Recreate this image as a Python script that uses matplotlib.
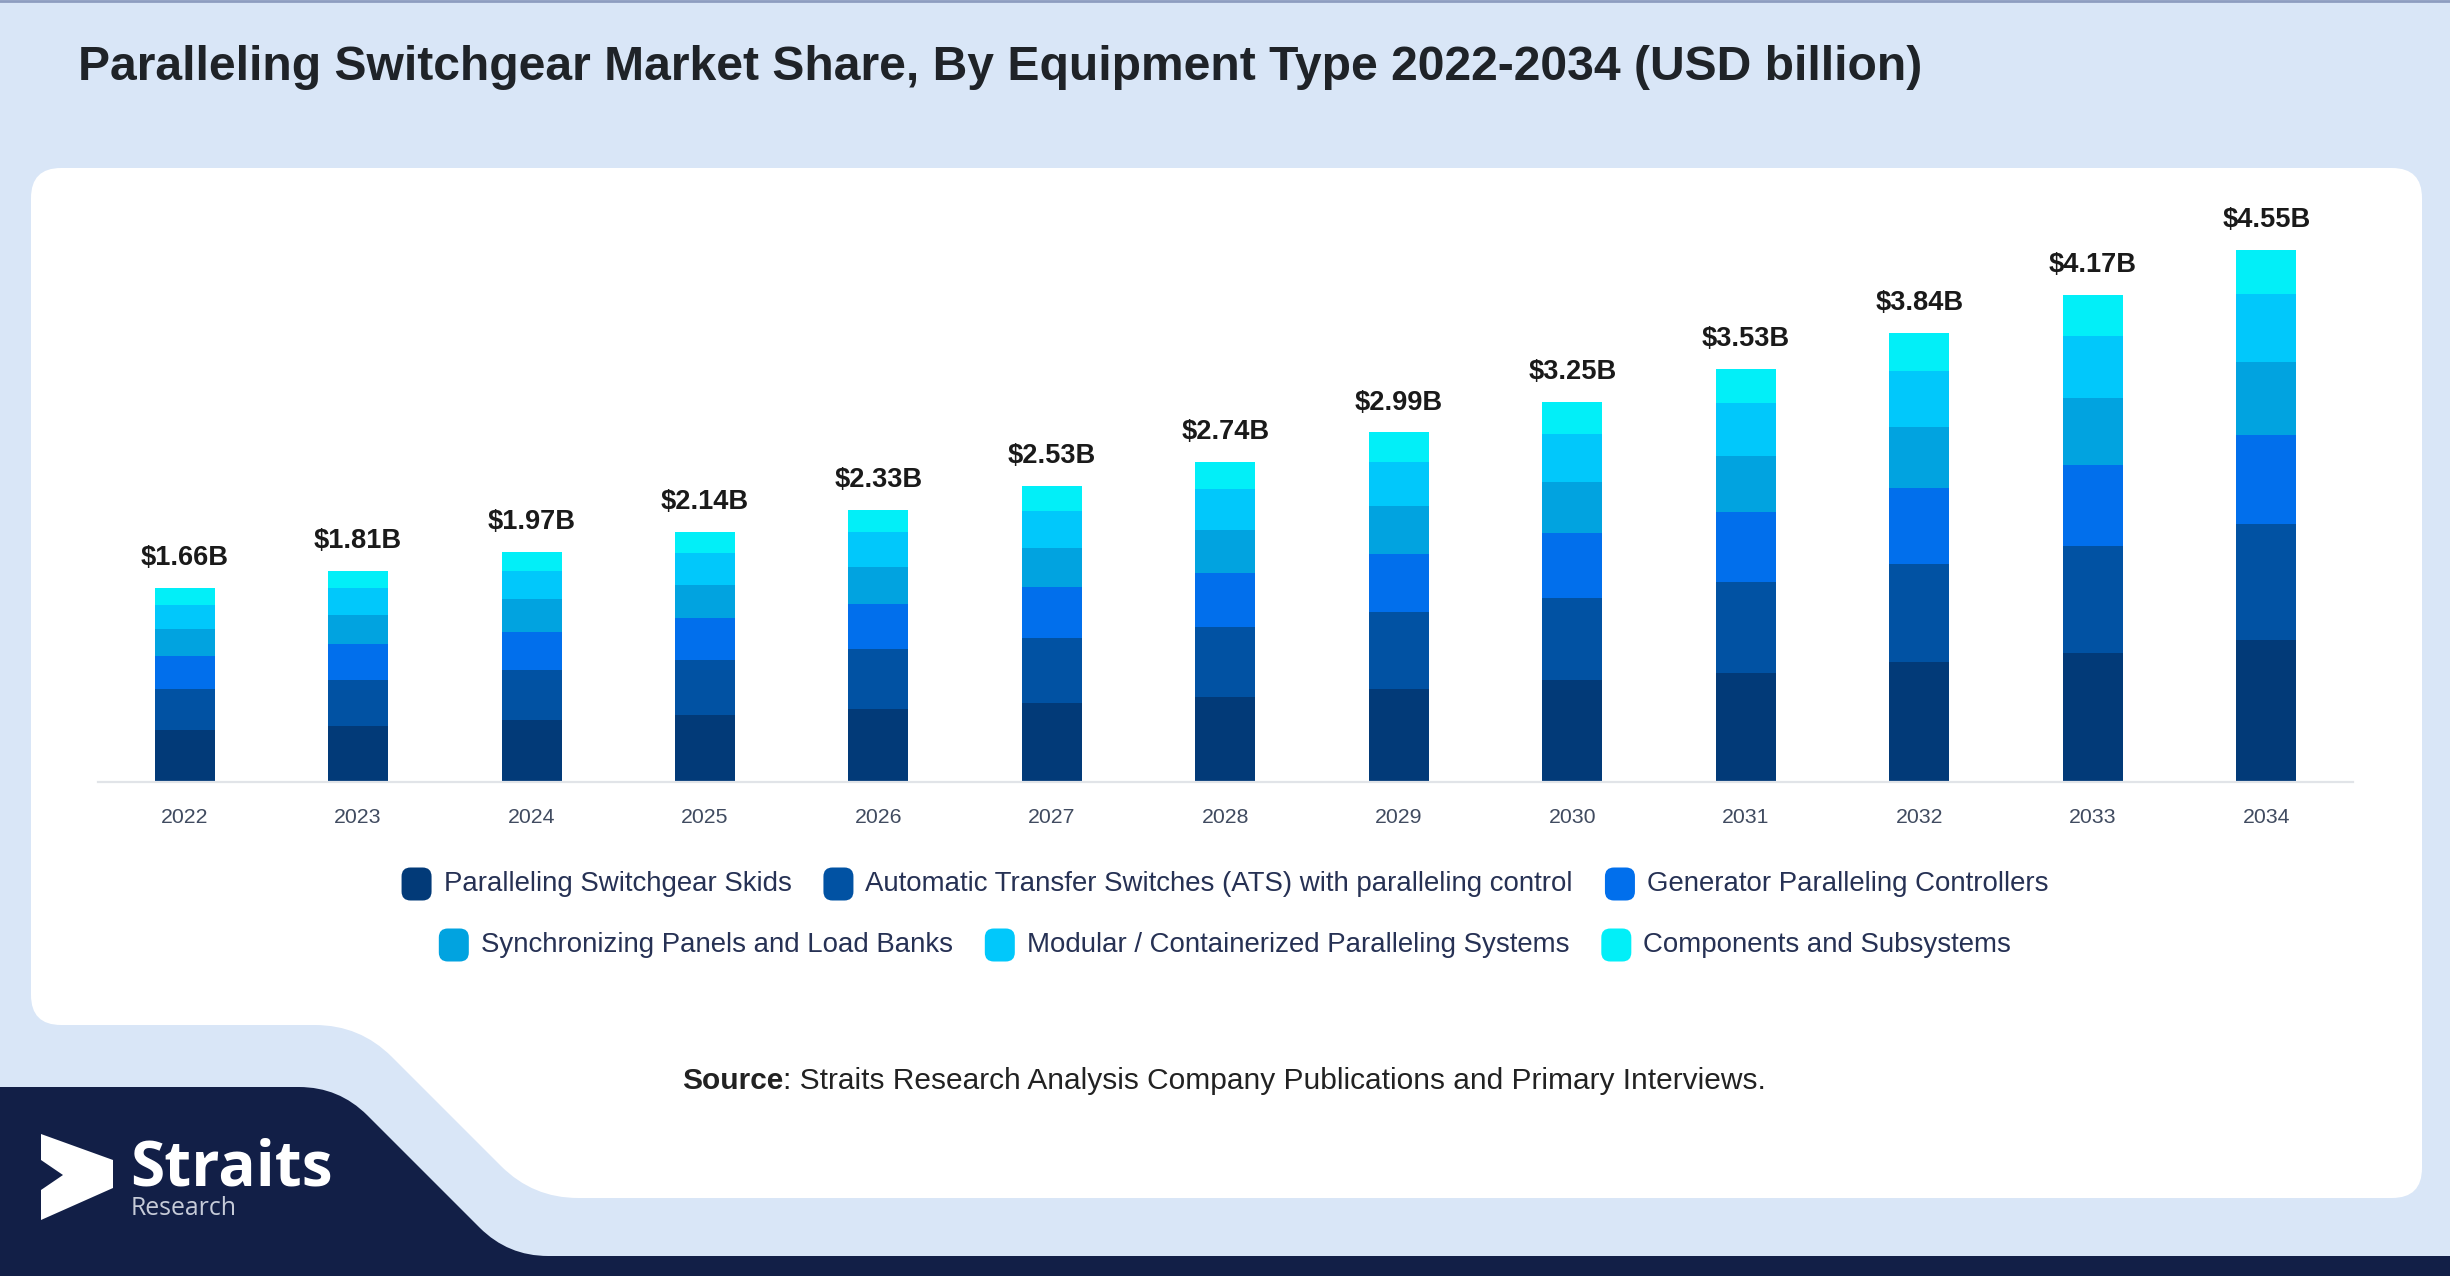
import matplotlib
matplotlib.use("Agg")
import matplotlib.pyplot as plt
from matplotlib.path import Path
from matplotlib.patches import PathPatch, FancyBboxPatch, Polygon
import numpy as np

# ---------------- data ----------------
years = ["2022", "2023", "2024", "2025", "2026", "2027", "2028",
         "2029", "2030", "2031", "2032", "2033", "2034"]
total_labels = [1.66, 1.81, 1.97, 2.14, 2.33, 2.53, 2.74, 2.99, 3.25, 3.53, 3.84, 4.17, 4.55]
skids = [0.443, 0.477, 0.532, 0.573, 0.622, 0.680, 0.730, 0.796, 0.870, 0.934, 1.027, 1.107, 1.212]
ats = [0.355, 0.392, 0.427, 0.471, 0.514, 0.551, 0.599, 0.656, 0.707, 0.778, 0.835, 0.916, 0.995]
gen_ctrl = [0.279, 0.313, 0.327, 0.359, 0.383, 0.434, 0.462, 0.499, 0.554, 0.597, 0.650, 0.692, 0.764]
sync_panels = [0.233, 0.247, 0.279, 0.285, 0.323, 0.334, 0.365, 0.411, 0.437, 0.479, 0.522, 0.568, 0.622]
modular = [0.207, 0.227, 0.242, 0.274, 0.300, 0.323, 0.351, 0.377, 0.412, 0.451, 0.483, 0.536, 0.583]
components = [0.142, 0.153, 0.162, 0.177, 0.188, 0.208, 0.234, 0.251, 0.270, 0.291, 0.323, 0.351, 0.373]

series_names = [
    "Paralleling Switchgear Skids",
    "Automatic Transfer Switches (ATS) with paralleling control",
    "Generator Paralleling Controllers",
    "Synchronizing Panels and Load Banks",
    "Modular / Containerized Paralleling Systems",
    "Components and Subsystems",
]
series_values = [skids, ats, gen_ctrl, sync_panels, modular, components]
colors = ["#023a78", "#0152a3", "#016fec", "#01a3e0", "#01c8fb", "#02eff8"]

title = "Paralleling Switchgear Market Share, By Equipment Type 2022-2034 (USD billion)"

# ---------------- figure ----------------
W, H = 2450, 1276
BG = "#d9e6f7"
NAVY = "#121f47"
fig = plt.figure(figsize=(W / 100, H / 100), dpi=100, facecolor=BG)
renderer = fig.canvas.get_renderer()

bg = fig.add_axes([0, 0, 1, 1])
bg.set_xlim(0, W)
bg.set_ylim(H, 0)
bg.axis("off")


def rounded_path(pts, radii):
    n = len(pts)
    verts, codes = [], []
    for i in range(n):
        p0 = np.array(pts[i - 1], float)
        p1 = np.array(pts[i], float)
        p2 = np.array(pts[(i + 1) % n], float)
        r = radii[i]
        l1 = np.linalg.norm(p0 - p1)
        l2 = np.linalg.norm(p2 - p1)
        a = p1 + (p0 - p1) / l1 * min(r, l1 / 2)
        b = p1 + (p2 - p1) / l2 * min(r, l2 / 2)
        verts.append(a)
        codes.append(Path.MOVETO if i == 0 else Path.LINETO)
        verts += [p1, b]
        codes += [Path.CURVE3, Path.CURVE3]
    verts.append(verts[0])
    codes.append(Path.CLOSEPOLY)
    return Path(verts, codes)


# top border line
bg.plot([0, W], [1, 1], color="#8d9dc0", lw=2, zorder=1)

# navy footer shape
navy_pts = [(-20, 1087), (339, 1087), (508, 1256), (W + 20, 1256), (W + 20, H + 20), (-20, H + 20)]
bg.add_patch(PathPatch(rounded_path(navy_pts, [0, 40, 40, 0, 0, 0]),
                       facecolor=NAVY, edgecolor="none", zorder=1))

# white panel
panel_pts = [(31, 168), (2422, 168), (2422, 1198), (533, 1198), (360, 1025), (31, 1025)]
bg.add_patch(PathPatch(rounded_path(panel_pts, [30, 30, 30, 45, 45, 30]),
                       facecolor="white", edgecolor="none", zorder=1))

# title
bg.text(78, 67, title, fontsize=34.55, fontweight="bold", family="Liberation Sans",
        color="#1f2328", ha="left", va="center", zorder=3)

# logo
arrow = [(41, 1134), (113, 1160), (113, 1188), (41, 1220), (41, 1190), (63, 1175), (41, 1160)]
bg.add_patch(Polygon(arrow, closed=True, facecolor="white", edgecolor="none", zorder=3))


def fit(text, target, **kw):
    t = fig.text(0, 0, text, fontsize=20, **kw)
    w = t.get_window_extent(renderer).width
    t.remove()
    return 20 * target / w


fs_logo = fit("Straits", 202, family="Open Sans", fontweight="bold")
bg.text(130, 1185, "Straits", fontsize=fs_logo, family="Open Sans", fontweight="bold",
        color="white", ha="left", va="baseline", zorder=3)
fs_res = fit("Research", 106, family="Open Sans")
bg.text(131, 1215, "Research", fontsize=fs_res, family="Open Sans",
        color="#c6cbd8", ha="left", va="baseline", zorder=3)

# source line
src_b = "Source"
src_r = ": Straits Research Analysis Company Publications and Primary Interviews."
fs_src = 21.55
tb = bg.text(682, 1081, src_b, fontsize=fs_src, fontweight="bold", family="Liberation Sans",
             color="#222222", ha="left", va="center", zorder=3)
wb = tb.get_window_extent(renderer).width
bg.text(682 + wb, 1081, src_r, fontsize=fs_src, family="Liberation Sans",
        color="#222222", ha="left", va="center", zorder=3)

# ---------------- chart ----------------
base_px, top_px = 782, 180
left_px, right_px = 97.85, 2353
px_per_unit = 116.9
ax = fig.add_axes([left_px / W, (H - base_px) / H, (right_px - left_px) / W, (base_px - top_px) / H])
ax.patch.set_alpha(0)
ax.set_xlim(-0.5, len(years) - 0.5)
ax.set_ylim(0, (base_px - top_px) / px_per_unit)

x = np.arange(len(years))
bottom = np.zeros(len(years))
for name, vals, c in zip(series_names, series_values, colors):
    ax.bar(x, vals, bottom=bottom, width=0.346, color=c, edgecolor="none", label=name, zorder=2)
    bottom = bottom + np.array(vals)

for xi, top, lab in zip(x, bottom, total_labels):
    ax.annotate(f"${lab:.2f}B", (xi, top), xytext=(0, 21.5), textcoords="offset points",
                ha="center", va="center", fontsize=19.6, fontweight="bold",
                family="Liberation Sans", color="#1a1a1a")

for s in ["left", "right", "top"]:
    ax.spines[s].set_visible(False)
ax.spines["bottom"].set_color("#e1e4e8")
ax.spines["bottom"].set_linewidth(1.6)
ax.set_yticks([])
ax.set_xticks(x)
ax.set_xticklabels(years, family="Liberation Sans", fontsize=15.3, color="#404b60")
ax.tick_params(axis="x", length=0, pad=18.5)

# ---------------- legend (flex-wrapped, centered rows) ----------------
leg_fs = fit(series_names[0], 348, family="Liberation Sans")
rows = [(0, 1, 2), (3, 4, 5)]
row_y = [884, 945]
mk_w, mk_h = 30, 33
mk_gap = 42
item_gap = 32
center_x = 1225
for idxs, yy in zip(rows, row_y):
    widths = []
    for i in idxs:
        t = fig.text(0, 0, series_names[i], fontsize=leg_fs, family="Liberation Sans")
        widths.append(t.get_window_extent(renderer).width)
        t.remove()
    total = sum(mk_gap + w for w in widths) + item_gap * (len(idxs) - 1)
    cx = center_x - total / 2
    for i, w in zip(idxs, widths):
        bg.add_patch(FancyBboxPatch((cx, yy - mk_h / 2), mk_w, mk_h,
                                    boxstyle="round,pad=0,rounding_size=9",
                                    facecolor=colors[i], edgecolor="none", zorder=3))
        bg.text(cx + mk_gap, yy, series_names[i], fontsize=leg_fs, family="Liberation Sans",
                color="#263154", ha="left", va="center", zorder=3)
        cx += mk_gap + w + item_gap

fig.savefig("out.png", dpi=100, facecolor=BG)
